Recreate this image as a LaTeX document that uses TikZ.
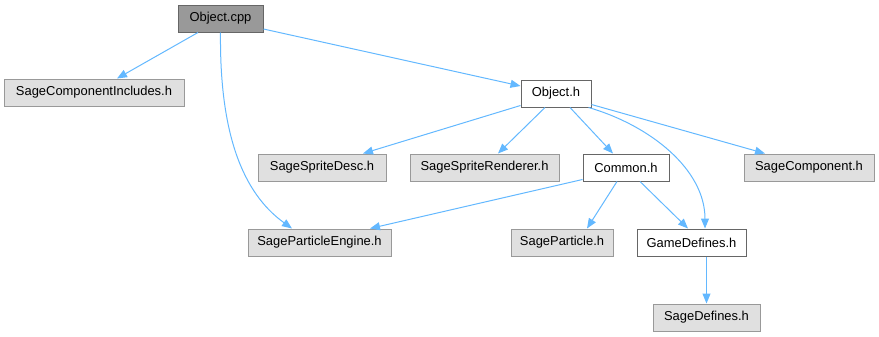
\documentclass[tikz,border=0pt]{standalone}
\usepackage{fontspec}
\setmainfont{Liberation Sans}
\usetikzlibrary{arrows.meta,calc}
\definecolor{edgeblue}{HTML}{63B8FF}
\definecolor{rootfill}{HTML}{999999}
\definecolor{rootline}{HTML}{666666}
\definecolor{extfill}{HTML}{E0E0E0}
\definecolor{extline}{HTML}{999999}
\begin{document}
\begin{tikzpicture}[x=0.75pt,y=-0.75pt,
  filebox/.style={rectangle,draw,line width=0.75pt,inner sep=0pt,
    minimum height=20.25pt,font=\fontsize{9.7}{11}\selectfont,text=black},
  rootbox/.style={filebox,fill=rootfill,draw=rootline},
  extbox/.style={filebox,fill=extfill,draw=extline},
  localbox/.style={filebox,fill=white,draw=rootline},
  dep/.style={draw=edgeblue,line width=0.75pt,
    -{Triangle[length=7.5pt,width=6pt]}}]
\useasboundingbox (0,0) rectangle (879,336);

% files
\node[rootbox,minimum width=63.75pt]  (objcpp) at (220.5,18.5) {Object.cpp};
\node[extbox,minimum width=135pt]     (sci)    at (94,92.5)    {SageComponentIncludes.h};
\node[localbox,minimum width=52.5pt]  (objh)   at (556,93.5)   {Object.h};
\node[extbox,minimum width=96pt]      (ssd)    at (322,167.5)  {SageSpriteDesc.h};
\node[extbox,minimum width=111.75pt]  (ssr)    at (484.5,167.5){SageSpriteRenderer.h};
\node[localbox,minimum width=64.5pt]  (common) at (626,167.5)  {Common.h};
\node[extbox,minimum width=97.5pt]    (sc)     at (809,167.5)  {SageComponent.h};
\node[extbox,minimum width=107.25pt]  (spe)    at (319.5,242.5){SageParticleEngine.h};
\node[extbox,minimum width=76.5pt]    (sp)     at (562,242.5)  {SageParticle.h};
\node[localbox,minimum width=81.75pt] (gd)     at (691.5,242.5){GameDefines.h};
\node[extbox,minimum width=80.25pt]   (sd)     at (706.5,317.5){SageDefines.h};

% include edges
\draw[dep] ($(objcpp.south)+(-22.5,0)$) -- ($(sci.north)+(23,0)$);
\draw[dep] (objcpp.south) .. controls +(-1,100) and +(-50,-36) .. ($(spe.north)+(-27.5,0)$);
\draw[dep] ($(objcpp.east)+(0,10.5)$) -- ($(objh.west)+(0,-7.5)$);
\draw[dep] ($(objh.south west)+(0,-2)$) -- ($(ssd.north)+(41,0)$);
\draw[dep] ($(objh.south)+(-11,0)$) -- ($(ssr.north)+(13.5,0)$);
\draw[dep] ($(objh.south)+(14,0)$) -- ($(common.north)+(-13,0)$);
\draw[dep] ($(objh.south east)+(-3,0)$) .. controls +(62,18) and +(0,-59) .. ($(gd.north)+(13.5,0)$);
\draw[dep] ($(objh.south east)+(0,-3)$) -- ($(sc.north)+(-44,0)$);
\draw[dep] ($(common.south west)+(0,-2)$) -- ($(spe.north)+(50.5,0)$);
\draw[dep] ($(common.south)+(-9,0)$) -- ($(sp.north)+(25,0)$);
\draw[dep] ($(common.south)+(14,0)$) -- ($(gd.north)+(-3.5,0)$);
\draw[dep] ($(gd.south)+(15,0)$) -- (sd.north);
\end{tikzpicture}
\end{document}
